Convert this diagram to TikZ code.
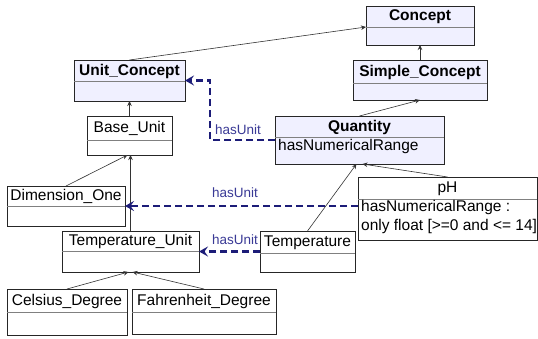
\documentclass[tikz,border=0pt]{standalone}
\usepackage{fontspec}
\setmainfont{Liberation Sans}
\usepackage{xcolor}
\usetikzlibrary{arrows.meta, positioning}

\definecolor{classfill}{HTML}{F0F0FF}
\definecolor{assocblue}{HTML}{1C1C78}
\definecolor{labelblue}{HTML}{3A3A96}

\tikzset{
  cls/.style={draw=black!85, line width=0.8pt, inner sep=0pt, outer sep=0pt, anchor=north west},
  sep/.style={draw=black!50, line width=0.8pt},
  gen/.style={-{Stealth[length=5pt, width=4.5pt]}, line width=0.6pt, black!80},
  assoc/.style={-{Stealth[length=9pt, width=10pt, inset=3.5pt]}, assocblue, line width=2.2pt, dash pattern=on 7pt off 4pt},
  rolelabel/.style={font=\fontsize{13.5}{15}\selectfont, text=labelblue, inner sep=0pt},
  attr/.style={font=\fontsize{15.5}{19}\selectfont, inner sep=0pt, align=left}
}

% name, x, y, width, height, divider, title, fill
\newcommand{\umlclass}[8]{%
  \node[cls, fill=#8, minimum width=#4pt, minimum height=#5pt] (#1) at (#2,#3) {};
  \draw[sep] (#2,{#3+#6}) -- ++(#4,0);
  \node[inner sep=0pt, font=\fontsize{15.5}{17}\selectfont] (#1title) at ({#2+#4/2},{#3+#6/2+0.5}) {#7};
}

\begin{document}
\begin{tikzpicture}[x=1pt, y=-1pt]
\useasboundingbox[fill=white] (0,0) rectangle (538,338);

\umlclass{concept}{366}{6}{108}{39}{21}{\bfseries Concept}{classfill}
\umlclass{simple}{353}{60}{134}{40}{23}{\bfseries Simple\_Concept}{classfill}
\umlclass{unitc}{74}{60}{111}{41}{21}{\bfseries Unit\_Concept}{classfill}
\umlclass{quantity}{275}{116}{169}{48}{21}{\bfseries Quantity}{classfill}
\umlclass{baseu}{87}{116}{85}{39}{24}{Base\_Unit}{white}
\umlclass{dimone}{7}{186}{118}{40}{20}{Dimension\_One}{white}
\umlclass{ph}{358}{177}{179}{63}{22}{pH}{white}
\umlclass{tempu}{62}{231}{137}{41}{20}{Temperature\_Unit}{white}
\umlclass{temp}{260}{231}{95}{41}{22}{Temperature}{white}
\umlclass{celsius}{7}{289}{120}{46}{23}{Celsius\_Degree}{white}
\umlclass{fahr}{132}{289}{144}{45}{23}{Fahrenheit\_Degree}{white}

\node[attr, anchor=west] (qattr) at (278,146) {hasNumericalRange};
\node[attr, anchor=north west] (phattr) at (361,200) {hasNumericalRange :\\only float [>=0 and <= 14]};

% generalisations
\draw[gen] (unitc.north) -- ([yshift=-1.5pt]concept.west);
\draw[gen] (simple.north) -- (concept.south);
\draw[gen] (quantity.north) -- (simple.south);
\draw[gen] (baseu.north) -- (unitc.south);
\draw[gen] (dimone.north) -- ([xshift=-2pt]baseu.south);
\draw[gen] (tempu.north) -- (tempu.north |- baseu.south);
\draw[gen] (temp.north) -- ([xshift=-3pt]quantity.south);
\draw[gen] (ph.north) -- ([xshift=3pt]quantity.south);
\draw[gen] (celsius.north) -- ([xshift=-2pt]tempu.south);
\draw[gen] (fahr.north) -- ([xshift=2pt]tempu.south);

% hasUnit associations
\draw[assoc] (quantity.west) -- ++(-65,0) |- (unitc.east);
\draw[assoc] (ph.west |- dimone.east) -- (dimone.east);
\draw[assoc] (temp.west) -- (tempu.east);

\node[rolelabel] (lbquantity) at (238,130) {hasUnit};
\node[rolelabel] (lbph) at (235,193) {hasUnit};
\node[rolelabel] (lbtemp) at (235,240) {hasUnit};
\end{tikzpicture}
\end{document}
